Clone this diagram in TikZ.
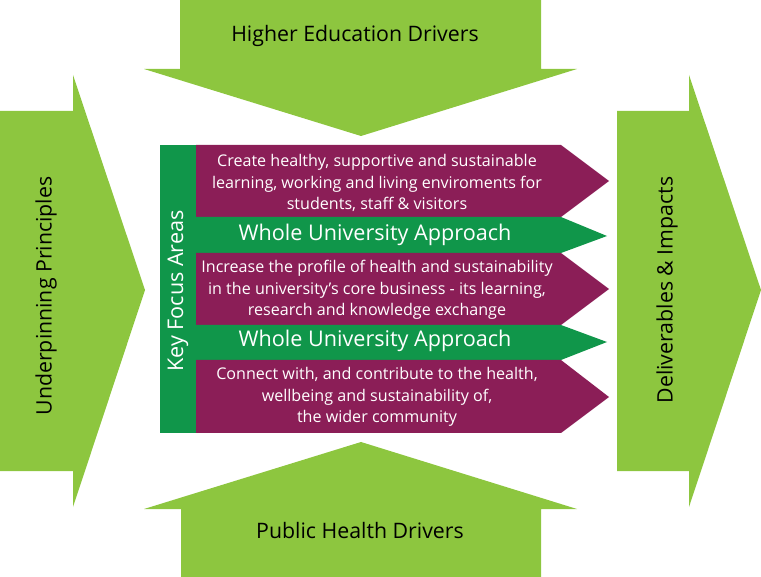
\documentclass[tikz,border=0pt]{standalone}
\usepackage{fontspec}
\setmainfont{Open Sans}
\definecolor{drivergreen}{HTML}{8DC63F}
\definecolor{focusgreen}{HTML}{10964A}
\definecolor{areaplum}{HTML}{8B1E57}
\begin{document}
\begin{tikzpicture}[x=1pt,y=-1pt]
		\tikzstyle{driver}=[fill=drivergreen]
		\tikzstyle{band}=[fill=focusgreen]
		\tikzstyle{area}=[fill=areaplum]
		\tikzstyle{big}=[font=\fontsize{21.3}{25}\selectfont,text=black]
		\tikzstyle{wua}=[font=\fontsize{21.6}{25}\selectfont,text=white]
		\tikzstyle{txt}=[font=\fontsize{16.1}{21.5}\selectfont,text=white,align=center]
		\useasboundingbox (0,0) rectangle (761,577);
		
		% the four drivers
		\fill[driver] (180,0) -- (541,0) -- (541,69) -- (577,69) -- (361,136) -- (144,69) -- (180,69) -- cycle;
		\fill[driver] (181,577) -- (541,577) -- (541,509) -- (577,509) -- (361,442) -- (144,509) -- (181,509) -- cycle;
		\fill[driver] (0,111) -- (73,111) -- (73,75) -- (145,290) -- (73,507) -- (73,471) -- (0,471) -- cycle;
		\fill[driver] (617,111) -- (689,111) -- (689,75) -- (761,290) -- (689,507) -- (689,471) -- (617,471) -- cycle;
		
		% key focus areas
		\fill[band] (160,145) rectangle (196,433);
		\fill[area] (196,145) -- (561,145) -- (609,181) -- (561,217) -- (196,217) -- cycle;
		\fill[band] (196,217) -- (561,217) -- (607,236) -- (561,253) -- (196,253) -- cycle;
		\fill[area] (196,253) -- (561,253) -- (609,289) -- (561,325) -- (196,325) -- cycle;
		\fill[band] (196,325) -- (561,325) -- (607,342) -- (561,360) -- (196,360) -- cycle;
		\fill[area] (196,360) -- (561,360) -- (609,397) -- (561,433) -- (196,433) -- cycle;
		
		\begin{scope}
		\node[big] (hed) at (355,36)  {Higher Education Drivers};
		\node[big] (phd) at (360,531) {Public Health Drivers};
		\node[big,rotate=90] (up)  at (46,296)  {Underpinning Principles};
		\node[big,rotate=90] (di)  at (667,290) {Deliverables \& Impacts};
		\node[wua,rotate=90] (kfa) at (178,291) {Key Focus Areas};
		\node[txt] (a1) at (377,183) {Create healthy, supportive and sustainable\\learning, working and living enviroments for\\students, staff \& visitors};
		\node[wua] (w1) at (375,235) {Whole University Approach};
		\node[txt] (a2) at (377,290) {Increase the profile of health and sustainability\\in the university’s core business - its learning,\\research and knowledge exchange};
		\node[wua] (w2) at (375,341) {Whole University Approach};
		\node[txt] (a3) at (377,397) {Connect with, and contribute to the health,\\wellbeing and sustainability of,\\the wider community};
		\end{scope}
\end{tikzpicture}
\end{document}
